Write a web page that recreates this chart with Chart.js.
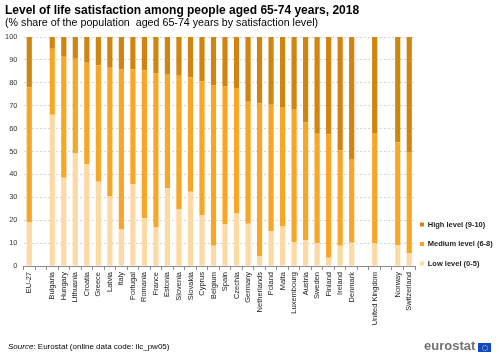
<!DOCTYPE html>
<html><head><meta charset="utf-8">
<script src="https://cdn.jsdelivr.net/npm/chart.js@4"></script>
<style>
html,body{margin:0;padding:0;background:#fff;}
#wrap{position:relative;width:500px;height:357px;font-family:"Liberation Sans",Arial,sans-serif;color:#000;overflow:hidden;}
#title{position:absolute;left:5px;top:3px;font-weight:bold;font-size:12px;white-space:nowrap;line-height:14px;}
#sub{position:absolute;left:5px;top:16px;font-size:10.7px;white-space:pre;line-height:12px;}
#src{position:absolute;left:8px;top:342px;font-size:8px;white-space:pre;line-height:10px;}
#logo{position:absolute;left:424px;top:339px;font-size:13px;font-weight:bold;color:#737373;line-height:14px;}
#flag{position:absolute;left:478px;top:343px;width:13px;height:9px;background:#0e47cb;}
#flag div{position:absolute;left:3.5px;top:1.5px;width:4px;height:4px;border:1px dotted #ffe600;border-radius:50%;}
canvas{position:absolute;left:0;top:0;}
</style></head>
<body>
<div id="wrap">
<canvas id="c" width="500" height="357"></canvas>
<div id="title">Level of life satisfaction among people aged 65-74 years, 2018</div>
<div id="sub">(% share of the population  aged 65-74 years by satisfaction level)</div>
<div id="src"><i>Source</i>: Eurostat (online data code: ilc_pw05)</div>
<div id="logo">eurostat</div>
<div id="flag"><div></div></div>
</div>
<script>
const categories = ["EU-27","","Bulgaria","Hungary","Lithuania","Croatia","Greece","Latvia","Italy","Portugal","Romania","France","Estonia","Slovenia","Slovakia","Cyprus","Belgium","Spain","Czechia","Germany","Netherlands","Poland","Malta","Luxembourg","Austria","Sweden","Finland","Ireland","Denmark","","United Kingdom","","Norway","Switzerland"];
const lowLevel    = [19.0,null,66.0,38.5,49.1,44.4,36.8,30.4,16.1,35.8,21.0,16.8,33.9,24.8,32.4,22.2, 8.8,18.2,23.1,18.5, 4.4,15.2,17.2,10.3,11.2, 9.9, 3.6, 8.8,10.2,null, 9.8,null, 9.2, 5.5];
const mediumLevel = [59.0,null,28.9,52.9,41.4,44.4,50.9,56.2,69.7,50.0,64.5,67.4,49.6,58.3,49.9,58.4,70.2,60.2,54.6,53.2,66.7,55.2,51.9,57.9,51.6,47.8,53.8,41.7,36.5,null,48.3,null,44.8,44.0];
const highLevel   = [22.0,null, 5.1, 8.6, 9.5,11.2,12.3,13.4,14.2,14.2,14.5,15.8,16.5,16.9,17.7,19.4,21.0,21.6,22.3,28.3,28.9,29.6,30.9,31.8,37.2,42.3,42.6,49.5,53.3,null,41.9,null,46.0,50.5];
const seriesNames = ["Low level (0-5)","Medium level (6-8)","High level (9-10)"];
const yTicks = [0,10,20,30,40,50,60,70,80,90,100];

const legendShift = {
  id:'legendShift',
  afterLayout(chart){
    const lg = chart.legend;
    if(!lg) return;
    lg.left = chart.chartArea.right - 7;
    lg.right = 500;
    lg.width = lg.right - lg.left;
    lg.bottom = 279.3;
  }
};

new Chart(document.getElementById('c'), {
  type:'bar',
  data:{
    labels: categories,
    datasets:[
      {label:seriesNames[0], data:lowLevel, backgroundColor:'#fdd9a3'},
      {label:seriesNames[1], data:mediumLevel, backgroundColor:'#f8a625'},
      {label:seriesNames[2], data:highLevel, backgroundColor:'#cf850f'}
    ]
  },
  options:{
    responsive:false,
    animation:false,
    devicePixelRatio:1,
    layout:{padding:{top:37, bottom:30, left:0, right:0}},
    datasets:{bar:{barPercentage:0.45, categoryPercentage:1.0, borderWidth:0}},
    scales:{
      x:{
        stacked:true,
        afterFit(s){ s.height = 61; },
        grid:{display:true, drawOnChartArea:false, drawTicks:true, tickLength:4, color:'#8c8c8c', offset:true},
        border:{display:true, color:'#8c8c8c'},
        ticks:{autoSkip:false, minRotation:90, maxRotation:90, padding:2, color:'#222', font:{family:'"Liberation Sans", Arial, sans-serif', size:7.5}}
      },
      y:{
        stacked:true, min:0, max:100,
        afterFit(s){ s.width = 23.5; },
        afterBuildTicks(s){ s.ticks = yTicks.map(v=>({value:v})); },
        grid:{color:'#d4d4d4', drawTicks:false, lineWidth:1},
        border:{display:false, dash:[2,2]},
        ticks:{padding:6, color:'#333', font:{family:'"Liberation Sans", Arial, sans-serif', size:7.5}}
      }
    },
    plugins:{
      title:{display:false},
      tooltip:{enabled:false},
      legend:{
        position:'right', align:'end', reverse:true, fullSize:false, maxWidth:85,
        labels:{boxWidth:4, boxHeight:4, padding:12, color:'#222', font:{family:'"Liberation Sans", Arial, sans-serif', size:7.5, weight:'bold'}}
      }
    }
  },
  plugins:[legendShift]
});
</script>
</body></html>
